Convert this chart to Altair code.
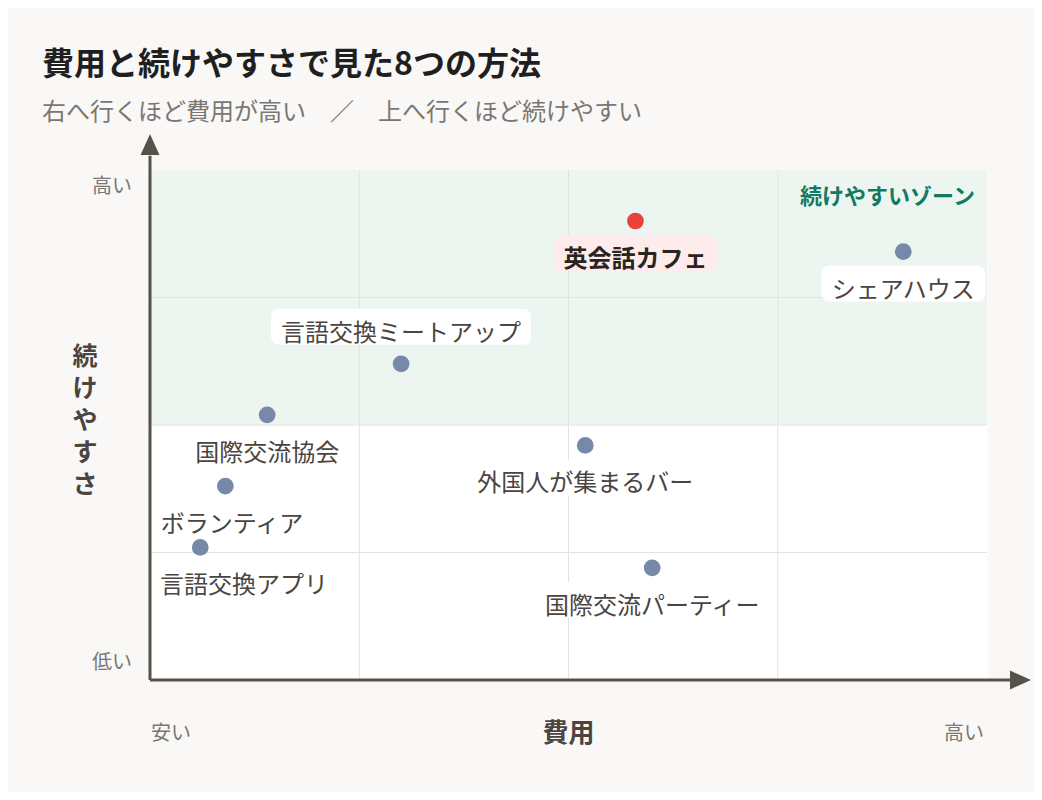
import altair as alt
import pandas as pd

# データ
methods = ["英会話カフェ", "シェアハウス", "言語交換ミートアップ", "国際交流協会",
           "外国人が集まるバー", "ボランティア", "言語交換アプリ", "国際交流パーティー"]
cost = [5.8, 9.0, 3.0, 1.4, 5.2, 0.9, 0.6, 6.0]
ease = [9.0, 8.4, 6.2, 5.2, 4.6, 3.8, 2.6, 2.2]
highlight = "英会話カフェ"
labels_above = ["言語交換ミートアップ"]

grid_values = [2.5, 5.0, 7.5]
zone_name = "続けやすいゾーン"
x_title = "費用"
y_title = "続けやすさ"
x_ends = ["安い", "高い"]
y_ends = ["低い", "高い"]

##### layout

W, H = 837, 510
DOMAIN = [0, 10]
FONT = "Noto Sans CJK JP"
LABEL_SIZE = 24
END_SIZE = 20
px_x = W / DOMAIN[1]
px_y = H / DOMAIN[1]

BG = "#f9f8f6"
AXIS_COLOR = "#57514b"
TEXT_COLOR = "#4a4541"
MUTED = "#7a7773"

df = pd.DataFrame({"method": methods, "cost": cost, "ease": ease})
df["hl"] = df["method"] == highlight
half_w = df["method"].str.len() * LABEL_SIZE / 2
shift = df["method"].isin(labels_above).map({True: -30, False: 39})
df["lx"] = df["cost"].clip(lower=(10 + half_w) / px_x)
df["ly"] = df["ease"] - shift / px_y
df["bx"] = df["lx"] - (half_w + 10) / px_x
df["bx2"] = df["lx"] + (half_w + 10) / px_x
df["by"] = df["ly"] + 25 / px_y
df["by2"] = df["ly"] - 11 / px_y

sx = alt.Scale(domain=DOMAIN, nice=False, zero=False)
sy = alt.Scale(domain=DOMAIN, nice=False, zero=False)


def nx(v):
    return alt.datum(v, scale=sx, axis=None)


def ny(v):
    return alt.datum(v, scale=sy, axis=None)


##### background zone + grid

zone = pd.DataFrame({"x": [DOMAIN[0]], "x2": [DOMAIN[1]], "y": [5.0], "y2": [DOMAIN[1]]})
zone_rect = alt.Chart(zone).mark_rect(color="#edf5f1").encode(
    x=alt.X("x:Q", scale=sx, axis=None),
    x2="x2:Q",
    y=alt.Y("y:Q", scale=sy, axis=None),
    y2="y2:Q",
)

grid_df = pd.DataFrame({"v": grid_values})
vgrid = alt.Chart(grid_df).mark_rule(color="#e4e2de", strokeWidth=1).encode(
    x=alt.X("v:Q", scale=sx, axis=None),
    y=ny(DOMAIN[0]),
    y2=alt.datum(DOMAIN[1]),
)
hgrid = alt.Chart(grid_df).mark_rule(color="#e4e2de", strokeWidth=1).encode(
    y=alt.Y("v:Q", scale=sy, axis=None),
    x=nx(DOMAIN[0]),
    x2=alt.datum(DOMAIN[1]),
)

##### label boxes

boxes = alt.Chart(df).mark_rect(cornerRadius=8).encode(
    x=alt.X("bx:Q", scale=sx, axis=None),
    x2="bx2:Q",
    y=alt.Y("by:Q", scale=sy, axis=None),
    y2="by2:Q",
    color=alt.condition("datum.hl", alt.value("#fdeceb"), alt.value("#ffffff")),
)

##### axis lines with arrows

line_end = 10.28
arrow_at = 10.5
arrow_shape = "M0,-1L0.9,1L-0.9,1Z"
one = pd.DataFrame({"a": [0]})

x_line = alt.Chart(one).mark_rule(color=AXIS_COLOR, strokeWidth=3).encode(
    x=nx(DOMAIN[0]), x2=alt.datum(line_end), y=ny(DOMAIN[0])
)
y_line = alt.Chart(one).mark_rule(color=AXIS_COLOR, strokeWidth=3).encode(
    y=ny(DOMAIN[0]), y2=alt.datum(line_end), x=nx(DOMAIN[0])
)
x_arrow = alt.Chart(one).mark_point(
    shape=arrow_shape, size=441, filled=True, opacity=1, color=AXIS_COLOR, angle=90
).encode(x=nx(arrow_at - 0.1), y=ny(DOMAIN[0]))
y_arrow = alt.Chart(one).mark_point(
    shape=arrow_shape, size=441, filled=True, opacity=1, color=AXIS_COLOR
).encode(x=nx(DOMAIN[0]), y=ny(arrow_at))

##### axis end labels and axis titles

end_half = END_SIZE  # two-character labels
y_end_df = pd.DataFrame({
    "t": y_ends,
    "y": [DOMAIN[0] + (END_SIZE * 0.85) / px_y, DOMAIN[1] - (END_SIZE * 0.85) / px_y],
})
y_end_labels = alt.Chart(y_end_df).mark_text(
    fontSize=END_SIZE, color=MUTED, font=FONT, align="right", baseline="middle", dx=-18
).encode(x=nx(DOMAIN[0]), y=alt.Y("y:Q", scale=sy, axis=None), text="t:N")

x_end_df = pd.DataFrame({
    "t": x_ends,
    "x": [DOMAIN[0] + (end_half + 1) / px_x, DOMAIN[1] - (end_half + 3) / px_x],
})
x_end_labels = alt.Chart(x_end_df).mark_text(
    fontSize=END_SIZE, color=MUTED, font=FONT, align="center", baseline="middle", dy=54
).encode(x=alt.X("x:Q", scale=sx, axis=None), y=ny(DOMAIN[0]), text="t:N")

x_title_mark = alt.Chart(pd.DataFrame({"t": [x_title]})).mark_text(
    fontSize=26, fontWeight="bold", color=TEXT_COLOR, font=FONT,
    align="center", baseline="middle", dy=54
).encode(x=nx(sum(DOMAIN) / 2), y=ny(DOMAIN[0]), text="t:N")

# vertical title: one character per row, stacked 32px apart around the axis middle
line_h = 32
n_chars = len(y_title)
y_title_df = pd.DataFrame({
    "t": list(y_title),
    "y": [sum(DOMAIN) / 2 + (4 + ((n_chars - 1) / 2 - i) * line_h) / px_y for i in range(n_chars)],
})
y_title_mark = alt.Chart(y_title_df).mark_text(
    fontSize=25, fontWeight="bold", color=TEXT_COLOR, font=FONT,
    align="center", baseline="middle", dx=-65
).encode(x=nx(DOMAIN[0]), y=alt.Y("y:Q", scale=sy, axis=None), text="t:N")

##### points and labels

points = alt.Chart(df).mark_circle(size=280, opacity=1).encode(
    x=alt.X("cost:Q", scale=sx, axis=None),
    y=alt.Y("ease:Q", scale=sy, axis=None),
    color=alt.condition("datum.hl", alt.value("#e9423a"), alt.value("#7789a8")),
)

labels = alt.Chart(df).transform_filter("!datum.hl").mark_text(
    fontSize=LABEL_SIZE, align="center", baseline="middle", font=FONT, color=TEXT_COLOR
).encode(
    x=alt.X("lx:Q", scale=sx, axis=None),
    y=alt.Y("ly:Q", scale=sy, axis=None),
    text="method:N",
)
labels_hl = alt.Chart(df).transform_filter("datum.hl").mark_text(
    fontSize=LABEL_SIZE, align="center", baseline="middle", font=FONT,
    color="#2a2421", fontWeight="bold"
).encode(
    x=alt.X("lx:Q", scale=sx, axis=None),
    y=alt.Y("ly:Q", scale=sy, axis=None),
    text="method:N",
)

zone_label = alt.Chart(pd.DataFrame({"t": [zone_name]})).mark_text(
    fontSize=22, fontWeight="bold", color="#137a5f", align="right", baseline="middle",
    dx=-12, dy=27, font=FONT
).encode(
    x=nx(DOMAIN[1]), y=ny(DOMAIN[1]), text="t:N"
)

chart = alt.layer(
    zone_rect, vgrid, hgrid, boxes, x_line, y_line, x_arrow, y_arrow,
    y_end_labels, x_end_labels, x_title_mark, y_title_mark,
    points, labels, labels_hl, zone_label
).properties(
    width=W, height=H,
    autosize=alt.AutoSizeParams(type="none"),
    padding={"left": 142, "top": 162, "right": 47, "bottom": 112},
    background=BG,
    title=alt.TitleParams(
        text="費用と続けやすさで見た8つの方法",
        subtitle="右へ行くほど費用が高い　／　上へ行くほど続けやすい",
        anchor="start", frame="group", dx=-108, offset=8,
        fontSize=32, fontWeight="bold", color="#1f1f1f", font=FONT,
        subtitleFontSize=24, subtitleColor=MUTED, subtitleFont=FONT, subtitlePadding=19,
    ),
).configure(
    font=FONT
).configure_view(
    fill="#ffffff", stroke="transparent"
)

chart.save("out.html", embed_options={"renderer": "svg", "actions": False})
